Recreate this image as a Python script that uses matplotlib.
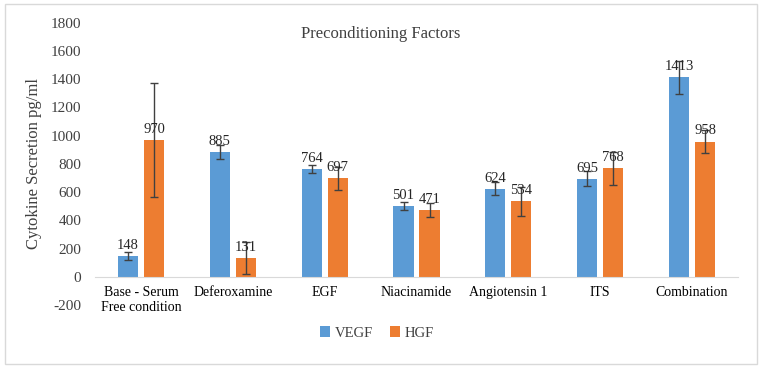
import numpy as np
import matplotlib.pyplot as plt
from matplotlib.patches import Rectangle

plt.rcParams['font.family'] = ['Liberation Serif', 'DejaVu Serif']
plt.rcParams['axes.unicode_minus'] = False

categories = ['Base - Serum\nFree condition', 'Deferoxamine', 'EGF', 'Niacinamide',
              'Angiotensin 1', 'ITS', 'Combination']
vegf = [148, 885, 764, 501, 624, 695, 1413]
hgf = [970, 131, 697, 471, 534, 768, 958]
vegf_err = [29, 50, 27, 28, 45, 52, 118]
hgf_err = [404, 115, 80, 50, 100, 116, 83]

blue = '#5B9BD5'
orange = '#ED7D31'

fig = plt.figure(figsize=(7.62, 3.67), dpi=100)
fig.patches.append(Rectangle((0.006, 0.008), 0.988, 0.982, transform=fig.transFigure,
                             fill=False, edgecolor='#d9d9d9', linewidth=1))
ax = fig.add_axes([0.1247, 0.169, 0.8438, 0.769])

x = np.arange(len(categories))
w = 0.218
gap = 0.065
off = (w + gap) / 2
eb = dict(ecolor='#404040', elinewidth=1, capsize=3, capthick=1)
b1 = ax.bar(x - off, vegf, w, color=blue, label='VEGF', yerr=vegf_err, error_kw=eb)
b2 = ax.bar(x + off, hgf, w, color=orange, label='HGF', yerr=hgf_err, error_kw=eb)

for bars, vals in ((b1, vegf), (b2, hgf)):
    for r, v in zip(bars, vals):
        ax.annotate(str(v), (r.get_x() + r.get_width() / 2, v), xytext=(0, 3),
                    textcoords='offset points', ha='center', va='bottom',
                    fontsize=10.5, color='#262626')

ax.set_xlim(-0.5, len(categories) - 0.5)
ax.set_ylim(-200, 1800)
ax.set_yticks(np.arange(-200, 1801, 200))
ax.set_xticks(x)
ax.set_xticklabels(categories, fontsize=11.5, color='#404040', va='top')
ax.tick_params(axis='x', length=0, pad=7)
ax.tick_params(axis='y', length=0, pad=10, labelsize=11, labelcolor='#404040')
for s in ('top', 'right', 'left'):
    ax.spines[s].set_visible(False)
ax.spines['bottom'].set_position(('data', 0))
ax.spines['bottom'].set_color('#d9d9d9')
ax.set_ylabel('Cytokine Secretion pg/ml', fontsize=12, color='#404040', labelpad=6)
fig.text(0.5, 1 - 34 / 367, 'Preconditioning Factors', ha='center',
         va='center', fontsize=12, color='#404040')

fig.legend(handles=[b1, b2], labels=['VEGF', 'HGF'], loc='center',
           bbox_to_anchor=(377 / 762, 1 - 333 / 367), ncol=2, frameon=False,
           handlelength=0.7, handleheight=0.7, handletextpad=0.3, columnspacing=1.2,
           fontsize=10.5, labelcolor='#404040')

fig.savefig('out.png', dpi=100, facecolor='white')
